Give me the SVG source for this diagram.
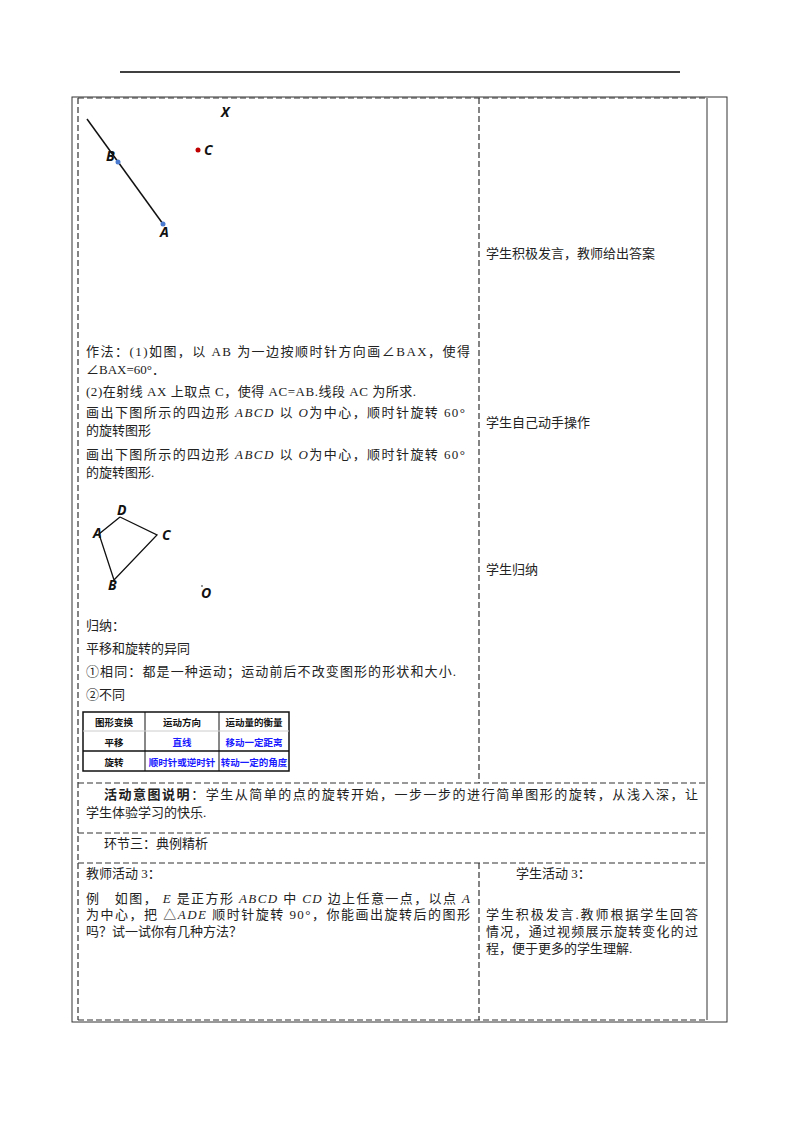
<svg xmlns="http://www.w3.org/2000/svg" width="800" height="1132" viewBox="0 0 800 1132">
<style>
text{font-family:"Liberation Serif","Noto Sans CJK SC",serif;font-size:13px;fill:#222}
.d{stroke:#333;stroke-width:1.2;stroke-dasharray:6,3;fill:none}
.s{stroke:#333;stroke-width:1;fill:none}
.lb{font-family:"Open Sans","Liberation Sans",sans-serif;font-style:italic;font-weight:bold;font-size:14px;fill:#111}
.t{font-family:"Noto Sans CJK SC",sans-serif;font-weight:bold;font-size:9.5px;fill:#111}
.b{fill:#1a1aff}
.i{font-style:italic}
</style>
<rect width="800" height="1132" fill="#fff"/>
<line x1="120" y1="72" x2="680" y2="72" stroke="#000" stroke-width="1.5"/>
<g id="frame">
<rect class="s" x="72" y="97" width="655" height="925"/>
<line class="d" x1="78" y1="98" x2="707" y2="98"/>
<line class="d" x1="78" y1="98" x2="78" y2="1020"/>
<line class="s" x1="707" y1="98" x2="707" y2="1020"/>
<line class="d" x1="479" y1="98" x2="479" y2="783"/>
<line class="d" x1="78" y1="783" x2="707" y2="783"/>
<line class="d" x1="78" y1="833" x2="707" y2="833"/>
<line class="d" x1="78" y1="863" x2="707" y2="863"/>
<line class="d" x1="479" y1="863" x2="479" y2="1020"/>
<line class="d" x1="78" y1="1020" x2="707" y2="1020"/>
</g>
<g id="fig1">
<line x1="87" y1="119" x2="163" y2="224" stroke="#111" stroke-width="1.5"/>
<circle cx="118" cy="162" r="2.5" fill="#4a7bd0"/>
<circle cx="163" cy="224" r="2.5" fill="#4a7bd0"/>
<circle cx="198" cy="150" r="2.5" fill="#c00000"/>
<text class="lb" x="221" y="117">X</text>
<text class="lb" x="106" y="161">B</text>
<text class="lb" x="204" y="155">C</text>
<text class="lb" x="160" y="237">A</text>
</g>
<g id="fig2">
<polyline points="120,517 157,535 114,580 99,534 120,517" fill="none" stroke="#111" stroke-width="1.3"/>
<text class="lb" x="117" y="515" font-size="11">D</text>
<text class="lb" x="93" y="538" font-size="11">A</text>
<text class="lb" x="162" y="540" font-size="11">C</text>
<text class="lb" x="108" y="590" font-size="11">B</text>
<text class="lb" x="201" y="598" font-size="11">O</text>
<circle cx="202" cy="586" r="0.8" fill="#111"/>
</g>
<g id="left-text">
<text x="86" y="356" textLength="384">作法：(1)如图，以 AB 为一边按顺时针方向画∠BAX，使得</text>
<text x="86" y="374">∠BAX=60°．</text>
<text x="86" y="396" textLength="330">(2)在射线 AX 上取点 C，使得 AC=AB.线段 AC 为所求.</text>
<text x="86" y="417" textLength="379">画出下图所示的四边形 <tspan class="i">ABCD</tspan> 以 <tspan class="i">O</tspan>为中心，顺时针旋转 60°</text>
<text x="86" y="435">的旋转图形</text>
<text x="86" y="459" textLength="379">画出下图所示的四边形 <tspan class="i">ABCD</tspan> 以 <tspan class="i">O</tspan>为中心，顺时针旋转 60°</text>
<text x="86" y="477">的旋转图形.</text>
<text x="86" y="630">归纳：</text>
<text x="86" y="653">平移和旋转的异同</text>
<text x="86" y="676" textLength="370">①相同：都是一种运动；运动前后不改变图形的形状和大小.</text>
<text x="86" y="699">②不同</text>
</g>
<g id="table">
<rect x="83" y="712" width="206" height="59" fill="none" stroke="#111" stroke-width="1.5"/>
<line x1="145" y1="712" x2="145" y2="771" stroke="#111"/>
<line x1="219" y1="712" x2="219" y2="771" stroke="#111"/>
<line x1="83" y1="731" x2="289" y2="731" stroke="#ccc"/>
<line x1="83" y1="751" x2="289" y2="751" stroke="#111" stroke-width="1.3"/>
<text class="t" x="114" y="726" text-anchor="middle">图形变换</text>
<text class="t" x="182" y="726" text-anchor="middle">运动方向</text>
<text class="t" x="254" y="726" text-anchor="middle">运动量的衡量</text>
<text class="t" x="114" y="746" text-anchor="middle">平移</text>
<text class="t b" x="182" y="746" text-anchor="middle">直线</text>
<text class="t b" x="254" y="746" text-anchor="middle">移动一定距离</text>
<text class="t" x="114" y="766" text-anchor="middle">旋转</text>
<text class="t b" x="182" y="766" text-anchor="middle">顺时针或逆时针</text>
<text class="t b" x="254" y="766" text-anchor="middle">转动一定的角度</text>
</g>
<g id="right-text">
<text x="486" y="258">学生积极发言，教师给出答案</text>
<text x="486" y="427">学生自己动手操作</text>
<text x="486" y="574">学生归纳</text>
</g>
<g id="intent">
<text x="104" y="799" textLength="594"><tspan font-weight="bold">活动意图说明</tspan>：学生从简单的点的旋转开始，一步一步的进行简单图形的旋转，从浅入深，让</text>
<text x="86" y="817">学生体验学习的快乐.</text>
<text x="104" y="848">环节三：典例精析</text>
</g>
<g id="example">
<text x="86" y="878">教师活动 3：</text>
<text x="86" y="903" textLength="384">例　如图，  <tspan class="i">E</tspan> 是正方形 <tspan class="i">ABCD</tspan> 中 <tspan class="i">CD</tspan> 边上任意一点，以点 <tspan class="i">A</tspan></text>
<text x="86" y="919" textLength="384">为中心，把 △<tspan class="i">ADE</tspan> 顺时针旋转 90°，你能画出旋转后的图形</text>
<text x="86" y="936">吗？试一试你有几种方法？</text>
<text x="516" y="878">学生活动 3：</text>
<text x="486" y="919" textLength="212">学生积极发言.教师根据学生回答</text>
<text x="486" y="936" textLength="212">情况，通过视频展示旋转变化的过</text>
<text x="486" y="953">程，便于更多的学生理解.</text>
</g>
</svg>
